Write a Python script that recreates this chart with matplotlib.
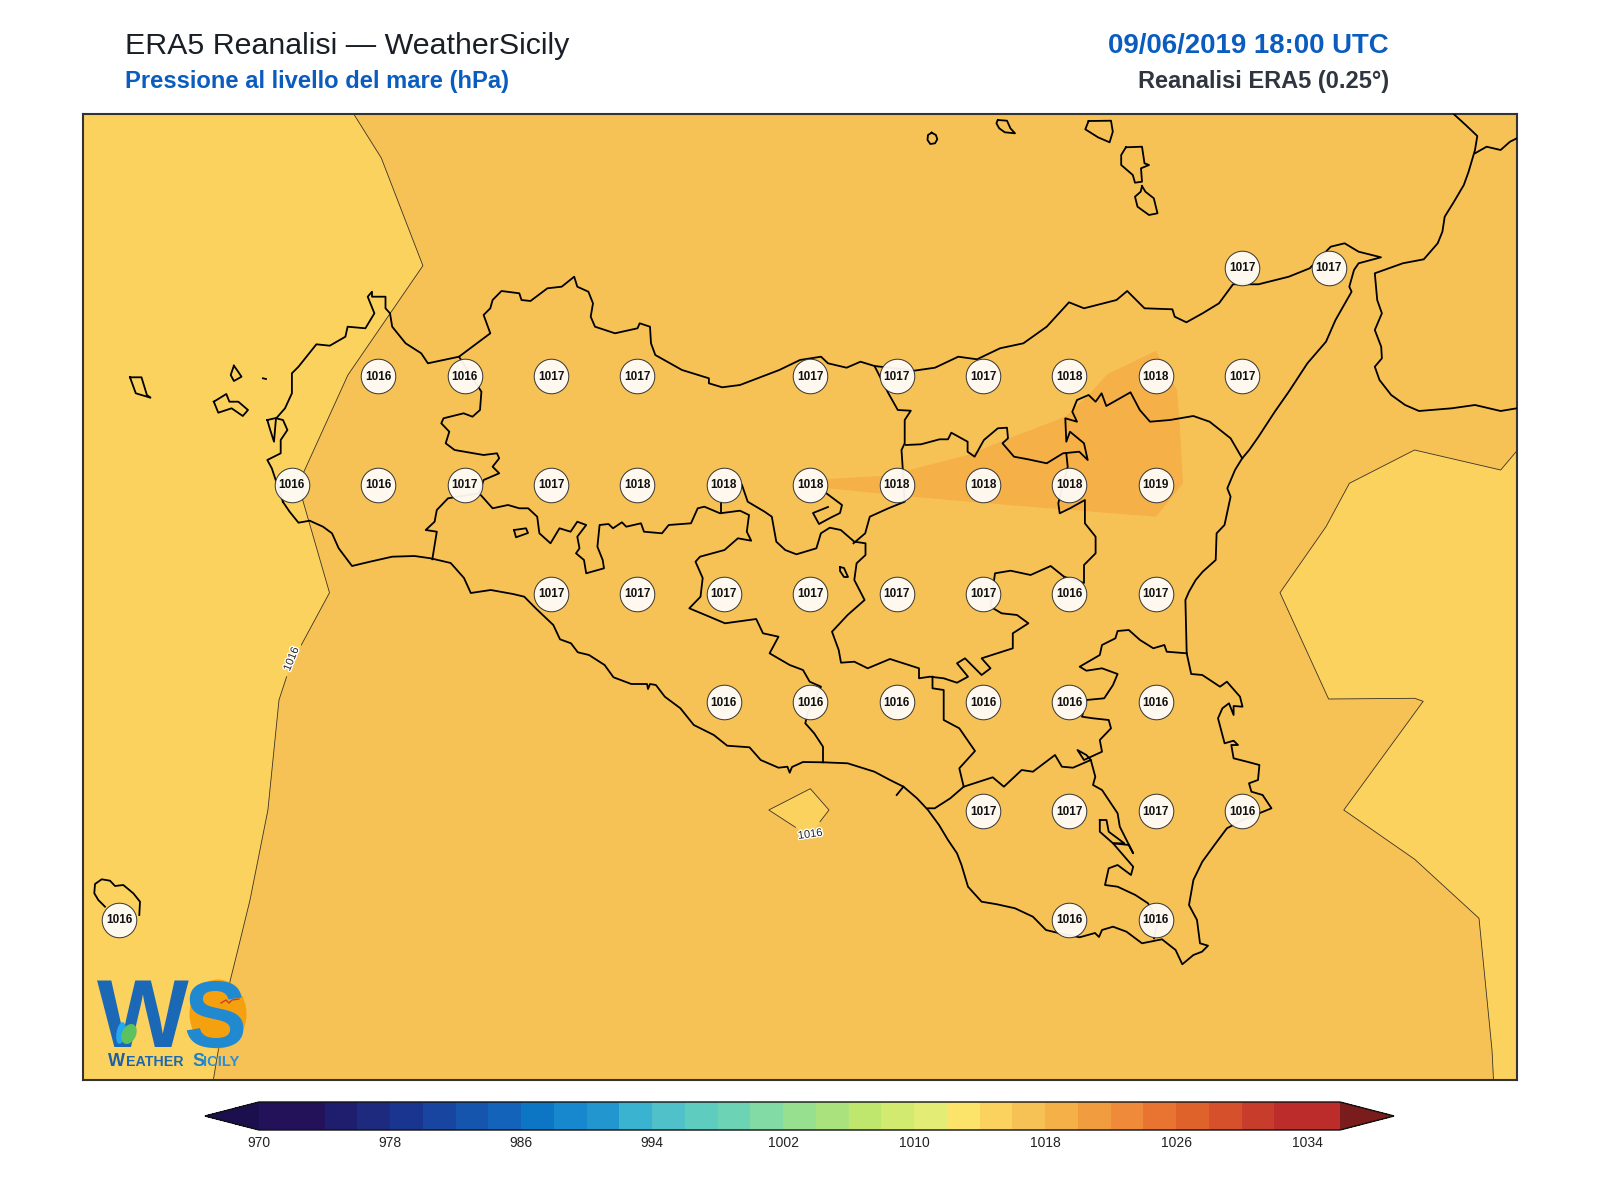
import matplotlib
matplotlib.use("Agg")
import numpy as np
import matplotlib.pyplot as plt
import matplotlib.patheffects as pe
from matplotlib.colors import ListedColormap, BoundaryNorm
from matplotlib.colorbar import ColorbarBase
from matplotlib.patches import Ellipse

plt.rcParams['font.family'] = ['Liberation Sans', 'DejaVu Sans']

# griglia ERA5 0.25 gradi: valori sui punti terra
STATION_LON = [15.25, 15.5,
               12.75, 13.0, 13.25, 13.5, 14.0, 14.25, 14.5, 14.75, 15.0, 15.25,
               12.5, 12.75, 13.0, 13.25, 13.5, 13.75, 14.0, 14.25, 14.5, 14.75, 15.0,
               13.25, 13.5, 13.75, 14.0, 14.25, 14.5, 14.75, 15.0,
               13.75, 14.0, 14.25, 14.5, 14.75, 15.0,
               14.5, 14.75, 15.0, 15.25,
               12.0, 14.75, 15.0]
STATION_LAT = [38.25] * 2 + [38.0] * 10 + [37.75] * 11 + [37.5] * 8 + [37.25] * 6 + [37.0] * 4 + [36.75] * 3
STATION_HPA = [1017, 1017,
               1016, 1016, 1017, 1017, 1017, 1017, 1017, 1018, 1018, 1017,
               1016, 1016, 1017, 1017, 1018, 1018, 1018, 1018, 1018, 1018, 1019,
               1017, 1017, 1017, 1017, 1017, 1017, 1016, 1017,
               1016, 1016, 1016, 1016, 1016, 1016,
               1017, 1017, 1017, 1016,
               1016, 1016, 1016]

# scala colori della pressione
LEVELS = list(range(970, 1037, 2))
TICKS = list(range(970, 1035, 8))
COLORS = ['#231159', '#231159', '#1f1e6e', '#1d2a7e', '#1a358f', '#1745a0', '#1555ad', '#1263b9',
          '#0c76c5', '#1788cd', '#2297cf', '#39b3d0', '#50c1c8', '#5ecdc0', '#6dd3b5', '#82dba5',
          '#97e08f', '#aae27e', '#bfe76d', '#d3ea70', '#e3ed75', '#fce36a', '#fcd25f', '#f6c256',
          '#f5b048', '#f19d3f', '#ee8a3a', '#e97431', '#e0622b', '#d5502b', '#c83c2b', '#bb2c2a', '#bb2c2a']
UNDER_COLOR = '#1c0f4e'
OVER_COLOR = '#7b1c1c'

# tutte le linee sotto sono in unita' mappa (vedi project)
# poligoni delle isobare
LOW_WEST = [(83, 114), (353.7, 114), (381.3, 158), (422.9, 265.7), (347.9, 375), (303.2, 473.3), (302.7, 500),
            (329.5, 592.7), (301.3, 645), (286.6, 676.7), (279, 700), (267.9, 810), (250, 900), (237.8, 950),
            (229.6, 983), (213.3, 1080), (83, 1080)]
LOW_EAST = [(1517, 450.7), (1500.7, 470), (1414.5, 450), (1349.4, 483.3), (1326, 526.7), (1280, 592.7),
            (1328.6, 699), (1414.7, 698.3), (1423.2, 701.3), (1343.8, 810), (1414.7, 859.3), (1479, 918.3),
            (1492, 1050), (1493.5, 1080), (1517, 1080)]
LOW_ISLAND = [(768.8, 810), (810.3, 788.7), (829, 810), (820, 821.7), (810, 836), (795.5, 827.3)]
HIGH_CENTER = [(810, 485), (828, 479), (881.5, 476), (909.4, 470), (967.6, 455), (1004.8, 440), (1065.4, 416.7),
               (1088.6, 395), (1107.3, 374.3), (1156, 350.7), (1177, 390), (1179.4, 420), (1183, 483.3),
               (1156, 516.7), (1000, 504.3), (911.7, 496.7), (828, 488.3)]

# linee di costa
SICILY = [(283, 502), (289.6, 511.7), (298.5, 522.7), (309.7, 520.7), (323, 526.7), (332, 533.3), (338.7, 548.3),
          (352, 566), (370, 561.7), (392.2, 556.7), (414.5, 556), (430.6, 558.3), (450.7, 563), (464, 578),
          (470.8, 593), (490.8, 590), (513, 594), (524.3, 596.7), (535.4, 608), (553.3, 625), (560, 639.3),
          (571, 643.3), (577.8, 652.3), (589, 655), (604.6, 665), (613.5, 677.3), (631.3, 684), (647, 684),
          (648, 689), (650, 684), (655.9, 685), (664.8, 696.7), (680.4, 708.3), (693.8, 725), (713.8, 735),
          (727.2, 745.7), (749.5, 747.3), (760.7, 760), (778.5, 767.7), (787.4, 766.7), (789.7, 772.7),
          (792, 767), (803, 762), (823, 762.3), (847.6, 763.3), (874.4, 771.7), (890, 780), (903.5, 786.7),
          (917, 798.3), (928, 810), (939, 825), (948, 840), (957, 853.3), (961.5, 865), (968, 886.7), (981.6, 901.7),
          (997, 904.3), (1015, 908.3), (1032.9, 916.7),
          (1046, 930), (1059.6, 933.3), (1079.7, 937.3), (1095, 933), (1099, 937), (1102, 930), (1113, 926.7),
          (1126.5, 931.7), (1142, 943.3), (1162, 939.3), (1175.6, 950), (1182.3, 964.3), (1193.4, 955),
          (1202, 951.7), (1208, 945.7), (1200, 943.3), (1197, 920), (1189, 905), (1193.4, 880), (1202.3, 861.7),
          (1215.7, 843.3), (1226.9, 828.3), (1242.5, 820), (1271.5, 808.3), (1262.6, 795), (1251.4, 791.7),
          (1249, 783.3), (1258, 780), (1259.4, 765), (1247, 761.7), (1233.6, 758.3), (1231.3, 745), (1238, 745),
          (1233.6, 740.7), (1224.6, 743.3), (1218, 718.3), (1222.4, 708.3), (1229, 703.3), (1233.6, 715),
          (1233.6, 706), (1242.5, 706.7), (1240, 696.7), (1226.9, 681.7), (1220, 686.7), (1202.3, 675),
          (1191.2, 674), (1186.7, 653.3), (1185.4, 600), (1189, 591.7), (1195.7, 580), (1202.7, 571.7),
          (1215.7, 560), (1216.6, 533.3), (1224.5, 525), (1230.6, 496.7), (1227.3, 488.3), (1235, 470),
          (1242.2, 458.3), (1249.2, 450), (1258.5, 436.7), (1274.8, 411.7), (1288.8, 391.7), (1307.4, 363.3),
          (1326, 341.7), (1335.5, 320), (1351.6, 291.7), (1349.3, 286.7),
          (1354, 270), (1358.6, 263.3), (1381, 257.3), (1358.6, 251.7), (1344.6, 243.3), (1330.7, 246.7),
          (1309.7, 268.3), (1288.8, 276.7), (1258.5, 284.3), (1233, 284.3), (1219, 303.3), (1202.6, 313.3),
          (1186.4, 322.3), (1174.7, 316.7), (1172.4, 309.3), (1144.5, 308.3), (1127.2, 291), (1116.5, 300),
          (1084, 308.3), (1069, 302.3), (1046.7, 326.7), (1023.4, 343.3), (1000, 348.3), (977, 359.3),
          (958.3, 356.7), (935, 367.7), (914, 370.7), (874.5, 366), (860.5, 361.7), (846.6, 367.7), (828, 363.3),
          (821, 356.7), (800, 360), (779.3, 370), (740, 385), (722.2, 387.3), (708.9, 383.3), (708.9, 378.3),
          (682, 370), (655.3, 355), (651, 343.3), (650, 326.7), (639.7, 323.3), (637.5, 328.3), (615, 333.3),
          (595, 326.7), (590.7, 316.7), (593, 303.3), (588.4, 291.7), (577.3, 286.7), (574.2, 276.7),
          (561.7, 286.7), (547.4, 288.3), (530.5, 301), (521.5, 300), (519.3, 293.3), (501.5, 291), (492.6, 300),
          (490.3, 308.3), (483.6, 315), (490.3, 333.3), (477, 343.3), (459, 356.7), (427.9, 363.3), (421.2, 353.3),
          (405.6, 343.3), (392.2, 326.7), (390, 313.3), (385.5, 308.3), (385.5, 296.7), (372, 296.7), (372, 291.7),
          (367.7, 296.7), (374.4, 313.3), (365.4, 328.3), (347.6, 326.7), (345.4, 336.7), (329.8, 345.7),
          (316.4, 344.3), (298.5, 366.7), (291.9, 373.3), (291.9, 393.3), (285, 408.3), (276.2, 418.3), (283, 420),
          (287.4, 430), (280.7, 440), (280.7, 453.3), (267.3, 460), (271.8, 468.3), (283, 502)]
CALABRIA = [(1454, 114.3), (1465.7, 125), (1477.3, 136), (1475, 150), (1468.5, 172), (1463.8, 185), (1454, 201.7),
            (1444.7, 216.7), (1442.4, 231.7), (1437.7, 243.3), (1423.8, 259.3), (1402.8, 263.3), (1388.8, 268.3),
            (1374.8, 273.3), (1377.2, 300), (1381.9, 313.3), (1374.8, 330), (1381.2, 346.7), (1381.9, 358.3),
            (1374.8, 366.7), (1379.5, 380), (1391.2, 395), (1405.1, 405), (1419, 411),
            (1451.7, 408.3), (1475, 405), (1500.6, 411), (1516.9, 408.3)]
CALABRIA_BORDER = [(1475, 153.3), (1486.6, 146.7), (1500.6, 150), (1510, 141.7), (1516.9, 138.3)]
ISLANDS = [
    [(267.3, 420), (276, 418), (274, 441.7), (269.6, 428), (267.3, 420)],
    [(233.9, 365.7), (230.7, 375), (233.9, 381), (241.5, 376.7), (237, 370), (233.9, 365.7)],
    [(213.8, 401.7), (226.3, 394), (229.4, 401.7), (238.3, 401.7), (248, 410), (242.8, 416), (231.6, 408.3),
     (218.3, 412.7), (213.8, 401.7)],
    [(130, 377.3), (141.5, 377.3), (146.9, 395), (150.5, 397.7), (135.8, 393.3), (130, 377.3)],
    [(262.9, 378.3), (266, 379)],
    [(931.7, 132.7), (935.9, 135), (937.3, 139.3), (935, 143.3), (930.3, 144), (927.5, 140), (928, 135), (931.7, 132.7)],
    [(997.8, 120), (1007, 120.7), (1010.4, 128.3), (1015, 133.3), (1004.8, 132.3), (999.2, 128.3), (996.4, 123.3),
     (997.8, 120)],
    [(1088.6, 121), (1111, 120.7), (1112.8, 131.7), (1109.6, 142.3), (1098, 137.3), (1085.3, 129.3), (1088.6, 121)],
    [(1125.9, 147.3), (1142, 146.7), (1144.5, 163.3), (1149, 165), (1141, 168.3), (1142, 181.7), (1135, 182.7),
     (1132.8, 175), (1121.2, 165), (1121.2, 155), (1125.9, 147.3)],
    [(1142, 186), (1145.4, 191.7), (1153.8, 198.3), (1157.5, 213.3), (1149, 215), (1137.5, 206.7), (1135, 196.7),
     (1140.7, 191.7), (1142, 186)],
    [(105, 906.7), (98.3, 900), (94.3, 893.3), (95, 884), (101.7, 879.3), (110, 880.7), (115, 886), (123.3, 885),
     (133.3, 893.3), (140, 901.7), (139.3, 915)],
]

# confini provinciali
PROVINCES = [
    [(459, 356.7), (481.4, 391.7), (480, 410), (472.5, 416.7), (463.6, 413.3), (443.5, 418.3), (441.3, 423.3),
     (449.3, 431.7), (445.7, 443.3), (454.6, 450), (483.6, 455), (497, 453.3), (499.2, 458.3), (492.6, 466.7),
     (499.2, 473.3), (483.6, 480), (479.2, 493.3), (448, 498.3), (436.8, 510), (434.6, 521.7), (425.7, 530),
     (436.8, 531.7), (432.3, 559.3)],
    [(479.2, 493.3), (492.6, 508.3), (508, 505), (519.3, 508.3), (528.2, 508.3), (537.2, 516.7), (539.4, 533.3),
     (550.5, 543.3), (559.5, 528.3), (570.6, 531.7), (577.3, 521.7), (586.2, 525), (577.3, 536.7), (579.5, 548.3),
     (576, 553.3), (584, 560), (586.2, 573.3), (604, 568.3), (602.7, 560), (597.4, 546.7), (599.6, 525),
     (608.5, 524), (613, 528.3), (621.9, 522.3), (626.3, 526.7), (641, 523.3), (644, 531.7), (662, 533.3),
     (668.7, 525), (691, 523.3), (697.7, 508.3), (704.4, 506.7), (720, 513.3), (740, 510.7), (749, 515),
     (746.8, 531.7), (751.2, 540.7), (737.9, 538.3), (724.5, 550), (700, 556.7), (695.5, 561.7), (702.7, 578),
     (700.5, 596.7), (689.3, 608.3), (709.4, 616.7), (725, 623.3), (756.2, 619), (763, 633.3), (778.5, 636.7),
     (769.6, 653.3), (789.7, 665), (803, 670), (809.7, 681.7), (821, 686.7), (807.5, 713.3), (805.3, 723.3),
     (814.2, 733.3), (823, 746.7), (823, 762.3)],
    [(720.9, 502.3), (720.9, 512.3)],
    [(742, 485), (747.7, 501.7), (764.6, 511.7), (771.8, 516.7), (776.3, 541.7), (785.2, 550), (796.4, 554.3),
     (816.4, 548.3), (820.9, 533.3), (829.8, 527.7), (840.8, 530), (854.3, 541.7), (865.5, 543.3), (865.5, 555),
     (856.6, 563.3), (854.3, 580), (864.6, 600), (847.6, 615), (832, 631.7), (838.7, 650), (841, 662.7),
     (854.3, 661.7), (867.7, 668.3), (890, 659), (903.4, 663.3), (919, 668.3), (919, 678.3), (930, 676.7),
     (943.7, 678.3), (957, 682.7), (968, 676.7), (957, 663.3), (965, 658.3), (981.6, 675), (990.5, 668.3),
     (981.6, 658.3), (1012.8, 648.3), (1012.8, 633.3), (1028.4, 623.3), (1017, 615), (1001.6, 613.3),
     (990.5, 606.7), (995, 573.3), (1010.6, 570.7), (1030.6, 575), (1050.7, 566), (1064, 576.7)],
    [(826, 493), (842, 505), (840, 513), (830, 518), (819, 524), (813, 513), (828, 507)],
    [(874.5, 366), (888.4, 393.3), (897.8, 410), (910.8, 410.7), (904.7, 420), (904.7, 443.3), (901.5, 450),
     (902.4, 463.3), (904.7, 501.7), (888.4, 508.3), (869.8, 516.7), (865.2, 533.3), (853.5, 543.3)],
    [(906, 445), (921, 444.3), (939.6, 439.3), (948, 439.3), (951.3, 432.7), (967.6, 441.7), (967.6, 451.7),
     (974.6, 456.7), (983.9, 440), (997.8, 428.3), (1007, 427.7), (1008, 438.3), (1002.5, 443.3), (1014, 456.7),
     (1028, 459.3), (1046.7, 463.3), (1063, 453.3), (1079.3, 451.7), (1087.7, 460), (1084, 443.3), (1070, 431.7),
     (1066.3, 441.7), (1065.3, 418.3), (1077, 421.7), (1072.3, 411.7), (1077, 400), (1088.6, 395), (1095.6, 401.7),
     (1101.6, 393.3), (1106.3, 406), (1130.5, 392.3), (1139.8, 410), (1150, 421.7), (1170, 420), (1193.3, 416),
     (1209.6, 421.7), (1230.6, 438.3), (1242.2, 458.3)],
    [(1066.3, 453.3), (1067.7, 466.7), (1058.3, 503.3), (1059.7, 513.3), (1070, 508.3), (1084.9, 500), (1084.9, 523.3),
     (1095.6, 536.7), (1095.6, 553.3), (1084, 565), (1084, 583), (1064, 576.7)],
    [(932.5, 676.7), (932.5, 688.3), (943.7, 690), (943.7, 720), (959.3, 728.3), (975, 751), (959.3, 768.3),
     (963.7, 786.7), (950.3, 798.3), (934.7, 808.3), (928, 808.3)],
    [(963.7, 786.7), (992.7, 777.3), (1003.9, 786.7), (1021.7, 770), (1032.9, 771.7), (1055, 755), (1061.9, 766.7),
     (1073, 767.7), (1090.8, 760), (1095.3, 776.7), (1093, 785), (1102, 790), (1117.6, 813.3), (1119.8, 826.7),
     (1133.2, 853.3), (1128.8, 845), (1113, 843.3), (1133.2, 866.7), (1131, 875), (1117.6, 865), (1108.7, 868.3),
     (1105, 885), (1117.6, 886.7), (1135.4, 895), (1148, 903.3), (1158, 920), (1154, 938.3)],
    [(1099.8, 820), (1106.5, 820), (1108.7, 831.7), (1124.3, 843.3), (1113, 843.3), (1099.8, 831.7), (1099.8, 820)],
    [(1186.7, 653.3), (1166.7, 651.7), (1164.4, 645), (1153.3, 648.3), (1140, 640), (1128.8, 630), (1117.6, 631),
     (1115.4, 638.3), (1102, 645), (1099.8, 655), (1079.7, 666.7), (1086.4, 670.7), (1102, 668.3), (1117.6, 674),
     (1113, 685), (1104.2, 698.3), (1086.4, 700), (1082, 716.7), (1093, 718.3), (1108.7, 720), (1111, 728.3),
     (1099.8, 740), (1102, 751.7), (1084, 760), (1077.5, 750), (1086.4, 755), (1090.8, 760)],
    [(840, 567), (844, 568), (848, 577), (844, 577), (840, 571), (840, 567)],
    [(896.7, 795), (903.4, 786.7)],
    [(514, 530), (526, 528.3), (528, 533), (516, 537.3), (514, 530)],
]


def project(lon, lat):
    # da lon/lat a unita' mappa
    return 291.8 + (lon - 12.5) * 345.6, 485 - (lat - 37.75) * 434.8


def draw_line(ax, points, **kw):
    xs, ys = zip(*points)
    ax.plot(xs, ys, **kw)


fig = plt.figure(figsize=(16, 12), dpi=100)
ax = fig.add_axes([83 / 1600, 1 - 1080 / 1200, 1434 / 1600, 966 / 1200])
ax.set_xlim(83, 1517)
ax.set_ylim(1080, 114)
ax.set_xticks([])
ax.set_yticks([])
ax.set_facecolor(COLORS[23])
for spine in ax.spines.values():
    spine.set_linewidth(1.5)
    spine.set_color('#333333')

# campiture e isolinea 1016
for poly in [LOW_WEST, LOW_EAST, LOW_ISLAND]:
    xs, ys = zip(*poly)
    ax.fill(xs, ys, color=COLORS[22], lw=0, zorder=1)
xs, ys = zip(*HIGH_CENTER)
ax.fill(xs, ys, color=COLORS[24], lw=0, zorder=1)

iso_style = dict(color='#3a3226', lw=0.6, zorder=2)
draw_line(ax, LOW_WEST[1:9], **iso_style)
draw_line(ax, LOW_WEST[9:-1], **iso_style)
draw_line(ax, LOW_EAST[:-1], **iso_style)
draw_line(ax, [LOW_ISLAND[5], LOW_ISLAND[0], LOW_ISLAND[1], LOW_ISLAND[2], LOW_ISLAND[3]], **iso_style)

halo = [pe.withStroke(linewidth=2, foreground='white')]
ax.text(291.5, 659, '1016', fontsize=8, rotation=68, ha='center', va='center', color='#222222',
        path_effects=halo, zorder=3)
ax.text(810.3, 834.3, '1016', fontsize=8, rotation=8, ha='center', va='center', color='#222222',
        path_effects=halo, zorder=3)

# coste e province
line_style = dict(color='black', lw=1.3, solid_joinstyle='round', zorder=4)
draw_line(ax, SICILY, **line_style)
draw_line(ax, CALABRIA, **line_style)
draw_line(ax, CALABRIA_BORDER, **line_style)
for seg in ISLANDS + PROVINCES:
    draw_line(ax, seg, **line_style)

# punti griglia con il valore
px, py = project(np.array(STATION_LON), np.array(STATION_LAT))
ax.scatter(px, py, s=620, facecolor=(1, 0.99, 0.97, 0.95), edgecolor='#333333', linewidth=0.7, zorder=5)
for x, y, val in zip(px, py, STATION_HPA):
    ax.text(x, y + 0.5, str(val), fontsize=8.5, fontweight='bold', ha='center', va='center', color='#111111', zorder=6)

# logo
ax.add_patch(Ellipse((218, 1014), 57, 69, facecolor='#f5a10f', edgecolor='none', zorder=7))
ax.text(143, 1047, 'W', fontsize=70, fontweight='bold', color='#1b68b6', ha='center', va='baseline', zorder=8)
ax.text(215, 1047, 'S', fontsize=68, fontweight='bold', color='#2089d0', ha='center', va='baseline', zorder=8)
ax.add_patch(Ellipse((121, 1033), 9, 22, angle=10, facecolor='#23a7ee', edgecolor='none', zorder=9))
ax.add_patch(Ellipse((129, 1034), 14, 21, angle=25, facecolor='#5cc25f', edgecolor='none', zorder=9))
ax.plot([221, 226, 229, 232, 239], [1003, 1000, 1003, 1000, 999], color='#c8431c', lw=1, zorder=9)
ax.text(108, 1066, 'W', fontsize=13, fontweight='bold', color='#1a5fa8', va='baseline', zorder=8)
ax.text(126, 1066, 'EATHER', fontsize=10.3, fontweight='bold', color='#1c68b0', va='baseline', zorder=8)
ax.text(192, 1066, 'S', fontsize=13, fontweight='bold', color='#2080c8', va='baseline', zorder=8)
ax.text(203, 1066, 'ICILY', fontsize=10.5, fontweight='bold', color='#2a8fd6', va='baseline', zorder=8)

# titoli
fig.text(125 / 1600, 1 - 53.5 / 1200, 'ERA5 Reanalisi \u2014 WeatherSicily', fontsize=21.9, color='#1a1f27', va='baseline')
fig.text(125 / 1600, 1 - 88 / 1200, 'Pressione al livello del mare (hPa)', fontsize=17.1, fontweight='bold',
         color='#0a5cbf', va='baseline')
fig.text(1389 / 1600, 1 - 53 / 1200, '09/06/2019 18:00 UTC', fontsize=19.9, fontweight='bold', color='#0a5cbf',
         ha='right', va='baseline')
fig.text(1389 / 1600, 1 - 88 / 1200, 'Reanalisi ERA5 (0.25\u00b0)', fontsize=17.05, fontweight='bold', color='#2f3640',
         ha='right', va='baseline')

# barra colori: gli assi comprendono anche le frecce
cax = fig.add_axes([205 / 1600, 1 - 1130 / 1200, 1189 / 1600, 28 / 1200])
cmap = ListedColormap(COLORS)
cmap.set_under(UNDER_COLOR)
cmap.set_over(OVER_COLOR)
norm = BoundaryNorm(LEVELS, cmap.N)
cb = ColorbarBase(cax, cmap=cmap, norm=norm, orientation='horizontal', extend='both', extendfrac=0.05,
                  ticks=TICKS, spacing='uniform')
cb.ax.minorticks_off()
cb.ax.tick_params(which='both', length=0, labelsize=10, pad=4, colors='#222222')
cb.outline.set_linewidth(1.0)
cb.outline.set_edgecolor('#111111')

fig.savefig('out.png', dpi=100)
